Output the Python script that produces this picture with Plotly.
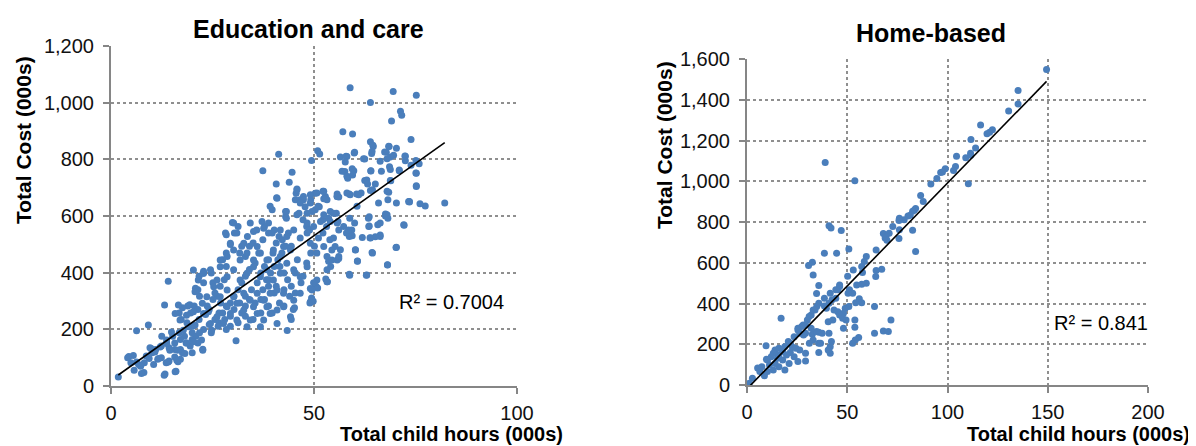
import plotly.graph_objects as go

# ---------------- Data: Education and care ----------------
ec_points = [
    (1.8,32),(6.3,195),(9.2,215),(14.1,370),(13.2,286),(5.7,56),(8.1,48),(13.3,42),(16,52),(4.4,104),
    (5.5,108),(30.8,160),(22.6,130),(20.3,409),(41.3,818),(37.4,760),(44.6,754),(43.9,719),(40.7,713),(40.8,664),
    (58.9,1053),(69.5,1039),(75.2,1026),(63.9,1001),(71.3,970),(71.6,956),(69.1,935),(57.1,897),(59.5,889),(73.9,870),
    (49.4,796),(50.9,830),(51.4,819),(82.2,646),(77.4,635),(76.1,643),(73.5,649),(72.2,567),(70.3,490),(68.1,428),
    (63,392),(58.7,394),(60.7,440),(64.4,469),(43.4,196),(75.2,704),(75.2,751),(75.9,784),(75.1,796),(72.4,812),
    (70.3,839),(68.5,845),(67.8,825),(68.8,808),(68.6,774),(71,762),(68.9,724),(68.4,684),(68.2,657),(68.2,592),
    (67.6,600),(65.7,569),(66.3,528),(63.8,523),(61.9,524),(63.9,690),(63.6,597),(63.5,563),(60.5,678),(63,727),
    (64,759),(64.2,821),(63.9,862),(64.6,845),(62.5,801),(56.5,808),(57.6,757),(58.3,733),(59.8,760),(59.9,822),
    (58.1,810),(55.7,678),(56.1,667),(58.7,678),(55.9,581),(55.5,610),(58.8,592),(58,540),(59.3,551),(60,575),
    (58.7,528),(60.2,481),(56.5,481),(56.1,450),(54.1,422),(53.6,440),(52.9,378),(53.3,368),(50.5,352),(50.9,346),
    (49.4,311),(49.8,299),(49,293),(44.9,270),(44.4,235),(45.2,276),(42.6,282),(41.5,293),(53.9,516),(52.2,540),
    (53.1,563),(52.2,587),(51.3,633),(52.8,669),(50.3,680),(49.2,657),(47.8,633),(47.3,587),(45.4,657),(45.6,680),
    (46.3,610),(48.2,563),(48.9,551),(50.1,493),(49.2,469),(48.2,434),(47.3,387),(46.8,364),(45.4,399),(45.9,446),
    (44.4,493),(43.7,540),(43,598),(43,616),(39.7,622),(38.8,575),(38.8,540),(40.2,551),(41.4,528),(42.2,516),
    (43,493),(42.1,469),(41.1,446),(40.2,422),(39.3,399),(38.3,375),(37.4,340),(37.8,305),(38.8,282),(39.7,258),
    (36.9,258),(35,235),(33.1,246),(31.3,223),(29.4,211),(28,235),(26.6,258),(25.6,235),(24.2,217),(22.8,199),
    (24.7,188),(20.9,176),(19.5,141),(17.6,117),(17.1,94),(16.5,86),(14.3,88),(13.6,82),(12.4,100),(11.5,94),
    (10.5,76),(10.1,117),(11,129),(12.4,141),(13.7,152),(15.2,176),(16.8,188),(17.3,235),(16.8,258),(17.6,276),
    (19.4,287),(20.5,282),(21.4,270),(19.6,258),(18.7,223),(20.1,211),(21.7,235),(23.3,252),(23.7,282),(21.8,317),
    (21.4,340),(22.8,364),(21.7,387),(22.8,405),(24.7,399),(25.1,364),(25.6,328),(26.9,352),(27.9,375),(28.4,422),
    (27.5,446),(28.4,469),(29.4,499),(28.4,534),(29.9,577),(31.3,563),(30.4,540),(32.2,493),(31.7,469),(33.1,457),
    (34.1,493),(33.6,528),(35,505),(35.9,551),(37.8,563),(37.4,516),(36.4,469),(35.5,434),(34.1,411),(33.1,387),
    (32.2,364),(31.3,340),(30.3,317),(29.4,293),(28.4,282),(27,293),(26.1,317),(25.1,305),(24.2,270),(30.3,270),
    (31.7,293),(33.1,317),(34.6,340),(36,364),(36.9,399),(37.8,422),(38.8,446),(39.9,469),(40.7,505),(41.6,422),
    (42.6,399),(43.5,375),(44.4,352),(45.4,328),(44,317),(42.6,340),(40.7,352),(40.2,328),(38.8,352),(38.8,375),
    (36.9,305),(35.5,293),(34.1,305),(33.1,282),(32.2,258),(29.4,246),(27.5,258),(26.6,223),(28.4,199),(21.8,188),
    (20,188),(18.1,176),(17.1,164),(15.7,152),(14.3,135),(15.7,129),(17.1,129),(18.5,152),(20,164),(21.4,152),
    (20,117),(8.7,106),(9.6,135),(8.2,82),(6.8,76),(4.9,82),(15.7,102),
    (45.8,695),(40.9,663),(39.2,634),(43.2,616),(43.2,592),(45.8,604),(46.6,657),(47.4,669),(49.1,675),(50.7,681),
    (52.4,687),(53.2,657),(55.7,669),(49.1,646),(50.3,622),(48.3,610),(48.3,575),(49.9,563),(51.6,581),(53.6,592),
    (54.8,610),(55.7,575),(30.2,575),(31,540),(28.2,540),(29.4,504),(34.3,575),(35.1,545),(37.2,581),(37.6,557),
    (39.7,540),(41.7,551),(43.3,528),(45,551),(46.6,522),(48.3,540),(49.1,504),(51.1,522),(52.4,492),(50.7,469),
    (53.2,457),(54.4,480),(55.7,445),(53.2,410),(50.7,374),(49.5,339),(49.1,297),(46.6,327),(45,303),(44.2,244),
    (42.5,280),(40.9,268),(39.2,256),(37.6,233),(36,256),(34.3,233),(32.7,268),(31,233),(29.4,256),(27.7,221),
    (26.1,244),(24.5,221),(22.8,256),(23.6,315),(25.3,350),(22.8,398),(24.5,410),(26.1,374),(26.9,421),(28.6,386),
    (30.2,410),(31.8,374),(33.5,398),(35.1,421),(36.8,386),(38.4,410),(40,374),(41.7,398),(43.3,433),(45,410),
    (46.6,386),(48.3,421),(31.8,445),(33.5,469),(35.1,445),(36.8,469),(38.4,445),(40,480),(41.7,457),(28.6,457),
    (30.2,480),(26.9,445),(32.7,504),(36,492),(42.5,492),(44.2,480),(26.9,315),(28.6,339),(30.2,315),(32.7,327),
    (34.3,303),(36,327),(37.6,303),(39.2,327),(40.9,339),(42.5,327),(28.6,280),(31,292),(35.1,280),(38.4,280),
    (33.5,209),(36.8,209),(40.9,221),
    (64.5,850),(68.4,846),(64.3,828),(67.4,826),(69.6,814),(57.9,811),(60,825),(62.2,802),(66.3,793),(68,802),
    (72.5,811),(72.5,795),(57.7,791),(59.4,767),(56.9,758),(58.1,740),(59.5,745),(64,760),(66.6,758),(68.8,764),
    (71,760),(73.9,779),(75.1,752),(75.2,707),(73.5,651),(70.3,646),(65.9,646),(62.5,725),(63.2,713),(65.1,713),
    (64.4,693),(68,687),(68.8,725),(61.6,681),(61,675),(58.9,675),(58.1,681),(55.7,669),(52.2,687),(47.4,657),
    (46.6,646),(45.8,693),(52.4,661),(54,616),(67.6,607),(60.6,634),(51,634),(49.5,616),
    (73.3,651),(63.4,592),(68,604),(66.3,575),(63.6,565),(72.1,569),(66.3,533),(65.1,527),(63.9,522),(59.4,530),
    (57.3,563),(58.5,551),(60.2,480),(64.3,471),(70.2,489),(60.7,441),(68.1,427),(58.8,391),(62.9,391),(49.5,303),
    (49.9,364),(49.1,344),(53.2,368),(54.4,445),(56.1,457),(55.2,492),(54.8,522),(56.1,551),(54,581),(52.4,604),
    (4.1,100),(7.5,44),(7.3,70),(6.3,85),(9.9,132),(10.8,120),(9.4,97),(11.7,97),(13.1,38),(15.8,50),
    (12.5,176),(12.1,138),(13.7,150),(14.5,126),(14.1,85),(16.2,91),(16.4,126),(18.2,115),(16.6,286),(15.8,256),
    (17,233),(18.9,282),(18.6,250),(20.3,262),(19,209),(20.7,215),(17.8,197),(14.9,191),(13.7,162),(22.7,398),
    (21.5,374),(20.8,345),(20.7,333),(22.5,292),(24,262),(22.3,162),(22.6,126),(18.6,152),(20.3,156),(24.8,197),
    (26.4,211),
]
ec_hours = [p[0] for p in ec_points]
ec_cost = [p[1] for p in ec_points]
ec_trend_hours = [1.8, 82.2]
ec_slope, ec_intercept = 10.2, 20.5
ec_r2_label = "R² = 0.7004"

# ---------------- Data: Home-based ----------------
hb_points = [
    (149.4,1549),(135.2,1446),(135.2,1379),(130.5,1345),(116.5,1276),(122.4,1253),(121,1241),(119.7,1233),
    (111.7,1205),(114,1163),(111.5,1138),(109.1,1115),(111.6,1128),(104.5,1123),(104,1073),(103,1053),
    (98.9,1061),(96.6,1043),(97.5,1046),(94.7,1014),(91.7,986),(110.4,988),(86.6,930),(87.9,901),(84.1,866),
    (83.4,858),(82.6,853),(81.4,833),(80.3,830),(78.4,811),(76,819),(75.8,807),(82.6,760),(76,762),(72.7,778),
    (70.9,745),(68,744),(69.3,727),(68.9,721),(69.8,711),(75.8,719),(84.1,655),(64.4,662),(67.2,568),(64.4,562),
    (64.2,532),(59.5,631),(58.5,606),(57.2,581),(57.6,552),(59.5,500),(57.2,495),(54.7,491),(53,565),(50.2,534),
    (51.1,467),(52.7,450),(50.4,450),(56,423),(57.2,404),(54.2,404),(50.8,385),(49,377),(48.1,352),(49.4,319),
    (48.1,278),(53.8,319),(53.8,283),(55.7,233),(54,221),(52.7,205),(63.6,254),(63.6,385),(68,265),(70.5,262),
    (71.8,319),(53.8,1002),(39,1092),(40.9,781),(41.9,770),(47,758),(50.8,668),(44.7,647),(38.6,647),(30.7,586),
    (32.6,603),(33,540),(35.8,488),(34.7,449),(46.2,483),(45.3,467),(44.3,426),(42.4,418),(40.9,401),(38.6,388),
    (34.8,385),(33.9,368),(32,344),(30.1,319),(29.2,295),(27.3,287),(25.4,278),(26.3,254),(28.2,246),(32.6,249),
    (35.8,259),(33,221),(35.8,205),(36.7,205),(35.8,159),(41.5,156),(41.5,188),(42.1,213),(40.9,254),(42.8,319),
    (40.5,311),(39.6,377),(43.4,368),(45.3,360),(46.2,344),(47.7,328),(29.2,156),(29.2,118),(25.4,115),(23.5,139),
    (21.6,159),(20.6,213),(21,106),(17.8,123),(17,328),(18.9,74),(15.9,90),(15.2,131),(14,172),(13.1,156),
    (12.1,139),(10.2,123),(9.5,193),(9.7,126),(8.7,46),(5.3,84),(6.4,66),(2.7,33),(1.1,8),(0.4,3),
    (15.9,180),(18.8,188),(23.5,237),(25.4,270),(28,295),(31,336),(33,368),(35.8,401),(38.6,426),(41.5,450),
    (44.3,467),(46.2,491),(7.4,90),(11.2,98),(14,106),(15.9,147),(17.8,164),(21.6,205),(22.5,188),(24.4,180),
    (26.3,172),(19.7,147),(13.1,74),(10.2,66),(31.1,205),(40.5,172),(29.2,254),(32,278),(34.7,262),(37.5,254),
]
hb_hours = [p[0] for p in hb_points]
hb_cost = [p[1] for p in hb_points]
hb_trend_hours = [1.1, 149.4]
hb_slope, hb_intercept = 10.1, -19.0
hb_r2_label = "R² = 0.841"

# The page body has an 8px margin, so the figure is drawn 8px smaller and all
# target window positions are shifted by that offset.
OFF = 8
W, H = 1196 - OFF, 446 - OFF
FONT = "Liberation Sans, Arial, sans-serif"
DOT = "#4a7ebb"
AXC = "#868686"
GRIDC = "#8f8f8f"

fig = go.Figure()
fig.add_trace(go.Scatter(x=ec_hours, y=ec_cost, mode="markers",
                         marker=dict(size=7, color=DOT), xaxis="x", yaxis="y", showlegend=False))
fig.add_trace(go.Scatter(x=ec_trend_hours, y=[ec_slope * h + ec_intercept for h in ec_trend_hours],
                         mode="lines", line=dict(color="black", width=1.6), xaxis="x", yaxis="y", showlegend=False))
fig.add_trace(go.Scatter(x=hb_hours, y=hb_cost, mode="markers",
                         marker=dict(size=7, color=DOT), xaxis="x2", yaxis="y2", showlegend=False))
fig.add_trace(go.Scatter(x=hb_trend_hours, y=[hb_slope * h + hb_intercept for h in hb_trend_hours],
                         mode="lines", line=dict(color="black", width=1.6), xaxis="x2", yaxis="y2", showlegend=False))

def px_x(p):
    return (p - OFF) / W

def px_y(p):
    return 1 - (p - OFF) / H

axis_common = dict(showline=True, linecolor=AXC, linewidth=2, ticks="outside", ticklen=6,
                   tickcolor=AXC, tickwidth=2, showgrid=True, gridcolor=GRIDC, gridwidth=1.5,
                   griddash="dot", zeroline=False, tickfont=dict(family=FONT, size=20, color="#111"),
                   fixedrange=True, automargin=False)

fig.update_layout(
    width=W, height=H, margin=dict(l=0, r=0, t=0, b=0, autoexpand=False),
    paper_bgcolor="white", plot_bgcolor="white",
    font=dict(family=FONT, color="#000"),
    xaxis=dict(domain=[px_x(111), px_x(517)], range=[0, 100], dtick=50, anchor="y",
               ticklabelstandoff=2, **axis_common),
    yaxis=dict(domain=[px_y(386), px_y(46)], range=[0, 1200], dtick=200, tickformat=",", anchor="x",
               ticklabelstandoff=5, **axis_common),
    xaxis2=dict(domain=[px_x(747), px_x(1148)], range=[0, 200], dtick=50, anchor="y2",
                ticklabelstandoff=2, **axis_common),
    yaxis2=dict(domain=[px_y(385), px_y(59)], range=[0, 1600], dtick=200, tickformat=",", anchor="x2",
                ticklabelstandoff=5, **axis_common),
)

ann = [
    dict(text="<b>Education and care</b>", x=px_x(308), y=px_y(29), font=dict(size=25)),
    dict(text="<b>Home-based</b>", x=px_x(931), y=px_y(33), font=dict(size=25)),
    dict(text="<b>Total Cost (000s)</b>", x=px_x(23), y=px_y(140), textangle=-90, font=dict(size=21)),
    dict(text="<b>Total Cost (000s)</b>", x=px_x(664), y=px_y(145), textangle=-90, font=dict(size=21)),
    dict(text="<b>Total child hours (000s)</b>", x=px_x(565), y=px_y(433.5), xanchor="right", font=dict(size=20)),
    dict(text="<b>Total child hours (000s)</b>", x=px_x(1192), y=px_y(433.5), xanchor="right", font=dict(size=20)),
    dict(text=ec_r2_label, x=px_x(451), y=px_y(302), font=dict(size=20)),
    dict(text=hb_r2_label, x=px_x(1101), y=px_y(323), font=dict(size=20)),
]
for a in ann:
    a.setdefault("xanchor", "center")
    a["xref"] = "paper"
    a["yref"] = "paper"
    a["yanchor"] = "middle"
    a["showarrow"] = False
    a["font"] = dict(family=FONT, color="#000", size=a["font"]["size"])
    fig.add_annotation(**a)

fig.write_html("out.html")
